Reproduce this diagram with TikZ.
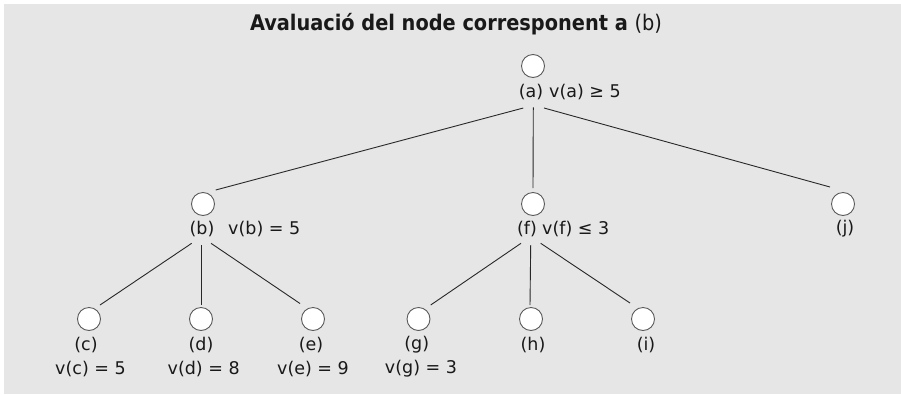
\documentclass[tikz,border=0pt]{standalone}
\usepackage{fontspec}
\setmainfont{DejaVu Sans}
\newfontfamily\titlefont{DejaVu Sans Condensed}
\definecolor{bggray}{RGB}{230,230,230}
\definecolor{circgray}{RGB}{90,90,90}
\definecolor{linegray}{RGB}{40,40,40}
\definecolor{txt}{RGB}{25,25,25}
\begin{document}
\begin{tikzpicture}[x=1pt,y=-1pt,
  treenode/.style={circle,draw=circgray,fill=white,minimum size=23pt,inner sep=0pt,line width=0.9pt},
  lbl/.style={inner sep=0pt,font=\fontsize{17.5}{17.5}\selectfont,text=txt},
  conn/.style={draw=linegray,line width=0.9pt}]
\useasboundingbox (0,0) rectangle (901,394);
\fill[bggray] (4,4) rectangle (901,394);

\node[inner sep=0pt,text=txt,font=\titlefont\fontsize{21.5}{21.5}\selectfont] (title) at (456,24.5)
  {\bfseries Avaluació del node corresponent a \mdseries(b)};

% nodes
\node[treenode] (a) at (533,66) {};
\node[treenode] (b) at (203,204) {};
\node[treenode] (f) at (533,204) {};
\node[treenode] (j) at (843,204) {};
\node[treenode] (c) at (89,319) {};
\node[treenode] (d) at (201,319) {};
\node[treenode] (e) at (313,319) {};
\node[treenode] (g) at (418.5,319) {};
\node[treenode] (h) at (531,319) {};
\node[treenode] (i) at (643,319) {};

% labels
\node[lbl] (la) at (531,92) {(a)};
\node[lbl,anchor=west] (va) at (549,92) {v(a) ≥ 5};
\node[lbl] (lb) at (202,228.5) {(b)};
\node[lbl,anchor=west] (vb) at (228,228.5) {v(b) = 5};
\node[lbl] (lf) at (527,229.5) {(f)};
\node[lbl,anchor=west] (vf) at (542,229.5) {v(f) ≤ 3};
\node[lbl] (lj) at (845,228.5) {(j)};
\node[lbl] (lc) at (86,345) {(c)};
\node[lbl] (vc) at (90.5,369) {v(c) = 5};
\node[lbl] (ld) at (201,345) {(d)};
\node[lbl] (vd) at (203.7,369) {v(d) = 8};
\node[lbl] (le) at (311,345) {(e)};
\node[lbl] (ve) at (313,369) {v(e) = 9};
\node[lbl] (lg) at (416.7,345) {(g)};
\node[lbl] (vg) at (421,369) {v(g) = 3};
\node[lbl] (lh) at (533,345) {(h)};
\node[lbl] (li) at (646,345) {(i)};

% connectors
\draw[conn] ([shift={(-9.7,42)}]a.center) -- ([shift={(12.7,-14)}]b.center);
\draw[conn] ([shift={(0.3,41.3)}]a.center) -- ([shift={(0,-16)}]f.center);
\draw[conn] ([shift={(11,42)}]a.center) -- ([shift={(-13,-17)}]j.center);

\draw[conn] ([shift={(-11.3,39.3)}]b.center) -- ([shift={(11,-14)}]c.center);
\draw[conn] ([shift={(-2,41)}]b.center) -- ([shift={(0,-14)}]d.center);
\draw[conn] ([shift={(8,39.3)}]b.center) -- ([shift={(-13,-15.5)}]e.center);

\draw[conn] ([shift={(-12,39.3)}]f.center) -- ([shift={(12.2,-14)}]g.center);
\draw[conn] ([shift={(-2.3,41)}]f.center) -- ([shift={(-1,-14)}]h.center);
\draw[conn] ([shift={(7.7,39.3)}]f.center) -- ([shift={(-13,-16)}]i.center);
\end{tikzpicture}
\end{document}
